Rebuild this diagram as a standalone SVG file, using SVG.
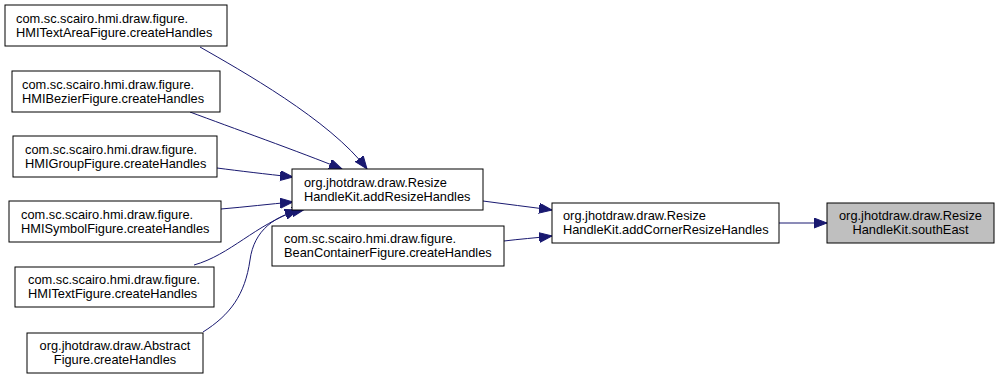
<svg xmlns="http://www.w3.org/2000/svg" width="1000" height="379" viewBox="0 0 1000 379">
  <defs>
    <marker id="arrow" markerUnits="userSpaceOnUse" markerWidth="14" markerHeight="11" refX="13" refY="5" orient="auto">
      <path d="M0,0 L13,5 L0,10 Z" fill="#191970" stroke="#191970" stroke-width="1"/>
    </marker>
    <style>
      .box { fill: #ffffff; stroke: #000000; stroke-width: 1; }
      .box.current { fill: #bfbfbf; }
      text { font-family: "Liberation Sans", Arial, Helvetica, sans-serif; font-size: 12.8px; fill: #000000; }
      .mid { text-anchor: middle; }
      .edge { fill: none; stroke: #191970; stroke-width: 1; marker-end: url(#arrow); }
    </style>
  </defs>
  <rect width="1000" height="379" fill="#ffffff"/>

  <!-- call edges -->
  <g id="edges">
    <path class="edge" d="M200,47 C240,70 330,120 367,169"/>
    <path class="edge" d="M190,112 C230,127 300,152 342,169"/>
    <path class="edge" d="M217,168 C240,171 265,174 293,177"/>
    <path class="edge" d="M221,209 C245,207 270,204 293,202"/>
    <path class="edge" d="M194,265 C230,255 255,225 298,210"/>
    <path class="edge" d="M203,332 C230,315 245,295 250,260 C254,230 275,215 305,209"/>
    <path class="edge" d="M483,201 C505,204 530,207 552,210"/>
    <path class="edge" d="M504,241 C520,239 535,238 552,236"/>
    <path class="edge" d="M779,223 L827,223"/>
  </g>

  <g id="node-textarea">
    <rect class="box" x="5" y="5" width="222" height="41"/>
    <text x="16" y="23">com.sc.scairo.hmi.draw.figure.</text>
    <text x="16" y="37">HMITextAreaFigure.createHandles</text>
  </g>

  <g id="node-bezier">
    <rect class="box" x="12" y="71" width="208" height="41"/>
    <text x="22" y="89">com.sc.scairo.hmi.draw.figure.</text>
    <text x="22" y="103">HMIBezierFigure.createHandles</text>
  </g>

  <g id="node-group">
    <rect class="box" x="13" y="136" width="204" height="41"/>
    <text x="25" y="154">com.sc.scairo.hmi.draw.figure.</text>
    <text x="25" y="168">HMIGroupFigure.createHandles</text>
  </g>

  <g id="node-symbol">
    <rect class="box" x="9" y="201" width="212" height="41"/>
    <text x="21" y="219">com.sc.scairo.hmi.draw.figure.</text>
    <text x="21" y="233">HMISymbolFigure.createHandles</text>
  </g>

  <g id="node-text">
    <rect class="box" x="15" y="267" width="199" height="40"/>
    <text x="28" y="284">com.sc.scairo.hmi.draw.figure.</text>
    <text x="28" y="298">HMITextFigure.createHandles</text>
  </g>

  <g id="node-abstract">
    <rect class="box" x="27" y="333" width="176" height="40"/>
    <text class="mid" x="115" y="350">org.jhotdraw.draw.Abstract</text>
    <text class="mid" x="115" y="364">Figure.createHandles</text>
  </g>

  <g id="node-addresize">
    <rect class="box" x="292" y="169" width="191" height="41"/>
    <text x="304" y="187">org.jhotdraw.draw.Resize</text>
    <text x="304" y="201">HandleKit.addResizeHandles</text>
  </g>

  <g id="node-beancontainer">
    <rect class="box" x="272" y="226" width="232" height="40"/>
    <text x="284" y="243">com.sc.scairo.hmi.draw.figure.</text>
    <text x="284" y="257">BeanContainerFigure.createHandles</text>
  </g>

  <g id="node-addcorner">
    <rect class="box" x="552" y="203" width="227" height="40"/>
    <text x="563" y="220">org.jhotdraw.draw.Resize</text>
    <text x="563" y="234">HandleKit.addCornerResizeHandles</text>
  </g>

  <g id="node-southeast">
    <rect class="box current" x="827" y="203" width="167" height="40"/>
    <text class="mid" x="910.5" y="220">org.jhotdraw.draw.Resize</text>
    <text class="mid" x="910.5" y="234">HandleKit.southEast</text>
  </g>
</svg>
